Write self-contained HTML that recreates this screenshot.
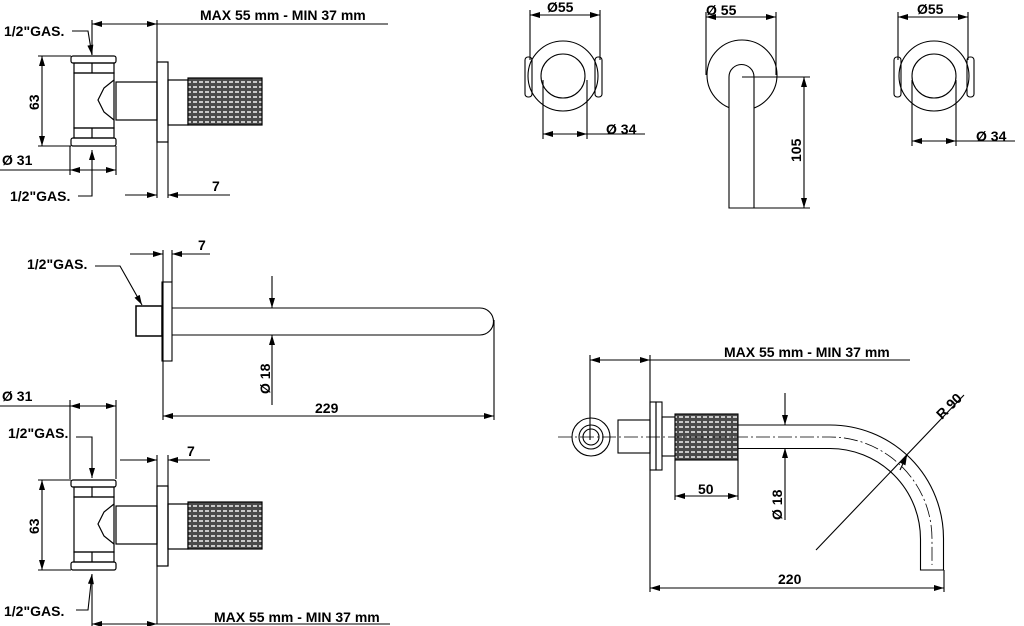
<!DOCTYPE html>
<html><head><meta charset="utf-8"><style>html,body{margin:0;padding:0;background:#fff}svg{display:block}</style></head>
<body>
<svg width="1024" height="626" viewBox="0 0 1024 626" xmlns="http://www.w3.org/2000/svg" font-family="Liberation Sans, sans-serif" font-weight="bold" font-size="14">
<defs>
<pattern id="k" width="6" height="5" patternUnits="userSpaceOnUse">
<rect width="6" height="5" fill="#4a4a4a"/><rect x="1" y="1" width="4" height="2" fill="#c8c8c8"/>
</pattern>
<marker id="a" viewBox="0 0 10 6" refX="10" refY="3" markerWidth="11" markerHeight="6" orient="auto-start-reverse" markerUnits="userSpaceOnUse"><path d="M0,0L10,3L0,6z" fill="#000"/></marker>
<g id="valve" stroke="#000" stroke-width="1.2" fill="none">
<rect x="71" y="56" width="45" height="7" rx="2"/>
<rect x="74" y="63" width="40" height="10"/>
<line x1="92" y1="63" x2="92" y2="73"/>
<rect x="74" y="73" width="40" height="55"/>
<path d="M114,80 L104,88 L98,100 L104,112 L114,120"/>
<rect x="74" y="128" width="40" height="10"/>
<line x1="92" y1="128" x2="92" y2="138"/>
<rect x="71" y="138" width="45" height="8" rx="2"/>
<rect x="116" y="82" width="41" height="38"/>
<rect x="157" y="62" width="11" height="80"/>
<rect x="168" y="80" width="20" height="45"/>
<rect x="188" y="78" width="74" height="47" fill="url(#k)"/>
</g>
</defs>
<g stroke="#000" stroke-width="1.1" fill="none">
<use href="#valve"/>
<line x1="92" y1="24" x2="157" y2="24" marker-start="url(#a)" marker-end="url(#a)"/>
<line x1="157" y1="24" x2="388" y2="24"/>
<line x1="92" y1="20" x2="92" y2="55"/>
<line x1="157" y1="20" x2="157" y2="198"/>
<line x1="168" y1="142" x2="168" y2="198"/>
<line x1="38" y1="56" x2="71" y2="56"/><line x1="38" y1="146" x2="71" y2="146"/>
<line x1="42" y1="56" x2="42" y2="146" marker-start="url(#a)" marker-end="url(#a)"/>
<line x1="0" y1="170" x2="70" y2="170"/>
<line x1="70" y1="146" x2="70" y2="175"/><line x1="116" y1="146" x2="116" y2="175"/>
<line x1="70" y1="170" x2="116" y2="170" marker-start="url(#a)" marker-end="url(#a)"/>
<polyline points="72,31 88,31 92,55" marker-end="url(#a)"/>
<polyline points="78,196 92,196 92,150" marker-end="url(#a)"/>
<line x1="125" y1="195" x2="157" y2="195" marker-end="url(#a)"/>
<line x1="230" y1="195" x2="168" y2="195" marker-end="url(#a)"/>
<use href="#valve" transform="translate(0,424)"/>
<line x1="157" y1="455" x2="157" y2="624"/>
<line x1="168" y1="455" x2="168" y2="566"/>
<line x1="120" y1="460" x2="157" y2="460" marker-end="url(#a)"/>
<line x1="210" y1="460" x2="168" y2="460" marker-end="url(#a)"/>
<line x1="92" y1="624" x2="157" y2="624" marker-start="url(#a)" marker-end="url(#a)"/>
<line x1="157" y1="624" x2="390" y2="624"/>
<line x1="92" y1="575" x2="92" y2="626"/>
<line x1="38" y1="480" x2="71" y2="480"/><line x1="38" y1="570" x2="71" y2="570"/>
<line x1="42" y1="480" x2="42" y2="570" marker-start="url(#a)" marker-end="url(#a)"/>
<line x1="0" y1="406" x2="70" y2="406"/>
<line x1="70" y1="400" x2="70" y2="479"/><line x1="116" y1="400" x2="116" y2="479"/>
<line x1="70" y1="406" x2="116" y2="406" marker-start="url(#a)" marker-end="url(#a)"/>
<polyline points="76,437 92,437 92,478" marker-end="url(#a)"/>
<polyline points="76,610 88,610 92,574" marker-end="url(#a)"/>
<rect x="136" y="306" width="26" height="30" stroke-width="1.5"/>
<rect x="162" y="282" width="10" height="79"/>
<path d="M172,308 H480 A13.5,13.5 0 0 1 480,335 H172"/>
<line x1="163" y1="250" x2="163" y2="420"/><line x1="172" y1="250" x2="172" y2="282"/>
<line x1="130" y1="254" x2="163" y2="254" marker-end="url(#a)"/>
<line x1="210" y1="254" x2="172" y2="254" marker-end="url(#a)"/>
<line x1="272" y1="276" x2="272" y2="308" marker-end="url(#a)"/>
<line x1="272" y1="405" x2="272" y2="335" marker-end="url(#a)"/>
<line x1="494" y1="320" x2="494" y2="420"/>
<line x1="163" y1="416" x2="494" y2="416" marker-start="url(#a)" marker-end="url(#a)"/>
<polyline points="95,266 120,266 142,305" marker-end="url(#a)"/>
<circle cx="563" cy="76" r="35"/><circle cx="563" cy="76" r="22"/>
<rect x="525" y="57" width="7" height="40" rx="3"/><rect x="595" y="57" width="7" height="40" rx="3"/>
<line x1="530" y1="10" x2="530" y2="60"/><line x1="600" y1="10" x2="600" y2="60"/>
<line x1="530" y1="15" x2="600" y2="15" marker-start="url(#a)" marker-end="url(#a)"/>
<line x1="543" y1="80" x2="543" y2="139"/><line x1="587" y1="80" x2="587" y2="139"/>
<line x1="543" y1="134" x2="587" y2="134" marker-start="url(#a)" marker-end="url(#a)"/>
<line x1="587" y1="134" x2="645" y2="134"/>
<circle cx="742" cy="75" r="35"/>
<path d="M729,208 V77 A12.5,12.5 0 0 1 754,77 V208 Z" fill="#fff"/>
<line x1="706" y1="12" x2="706" y2="75"/><line x1="776" y1="12" x2="776" y2="75"/>
<line x1="706" y1="17" x2="776" y2="17" marker-start="url(#a)" marker-end="url(#a)"/>
<line x1="742" y1="77" x2="810" y2="77"/><line x1="754" y1="208" x2="810" y2="208"/>
<line x1="804" y1="77" x2="804" y2="208" marker-start="url(#a)" marker-end="url(#a)"/>
<circle cx="934" cy="76" r="35"/><circle cx="934" cy="76" r="22"/>
<rect x="894" y="57" width="7" height="40" rx="3"/><rect x="967" y="57" width="7" height="40" rx="3"/>
<line x1="898" y1="12" x2="898" y2="60"/><line x1="968" y1="12" x2="968" y2="60"/>
<line x1="898" y1="17" x2="968" y2="17" marker-start="url(#a)" marker-end="url(#a)"/>
<line x1="912" y1="80" x2="912" y2="146"/><line x1="956" y1="80" x2="956" y2="146"/>
<line x1="912" y1="141" x2="956" y2="141" marker-start="url(#a)" marker-end="url(#a)"/>
<line x1="956" y1="141" x2="1015" y2="141"/>
<circle cx="591" cy="437" r="19"/><circle cx="591" cy="437" r="12"/><circle cx="591" cy="437" r="8"/>
<rect x="618" y="420" width="32" height="33"/>
<rect x="650" y="402" width="6" height="68"/><rect x="656" y="402" width="6" height="68"/>
<rect x="662" y="417" width="13" height="39"/>
<rect x="675" y="414" width="63" height="46" fill="url(#k)"/>
<path d="M738,425 H830 A113.5,113.5 0 0 1 943.5,539 V570 H920.5 V539 A90.5,90.5 0 0 0 830,448.5 H738"/>
<path d="M558,437 H830 A102,102 0 0 1 932,539 V565" stroke-dasharray="14,3,2,3" stroke-width="0.8"/>
<line x1="590" y1="355" x2="590" y2="440"/><line x1="650" y1="355" x2="650" y2="592"/>
<line x1="590" y1="360" x2="650" y2="360" marker-start="url(#a)" marker-end="url(#a)"/>
<line x1="650" y1="360" x2="910" y2="360"/>
<line x1="675" y1="460" x2="675" y2="500"/><line x1="738" y1="460" x2="738" y2="500"/>
<line x1="675" y1="496" x2="738" y2="496" marker-start="url(#a)" marker-end="url(#a)"/>
<line x1="785" y1="393" x2="785" y2="425" marker-end="url(#a)"/>
<line x1="785" y1="520" x2="785" y2="448" marker-end="url(#a)"/>
<line x1="944" y1="570" x2="944" y2="592"/>
<line x1="650" y1="588" x2="944" y2="588" marker-start="url(#a)" marker-end="url(#a)"/>
<line x1="816" y1="550" x2="964" y2="395"/>
<line x1="900" y1="470" x2="907" y2="455" marker-end="url(#a)"/>
</g>
<g fill="#000">
<text x="200" y="20">MAX 55 mm - MIN 37 mm</text>
<text x="4" y="36">1/2"GAS.</text>
<text x="10" y="201">1/2"GAS.</text>
<text x="2" y="165">Ø  31</text>
<text x="212" y="191">7</text>
<text transform="translate(39,110) rotate(-90)">63</text>
<text x="2" y="401">Ø  31</text>
<text x="8" y="438">1/2"GAS.</text>
<text x="187" y="456">7</text>
<text transform="translate(39,534) rotate(-90)">63</text>
<text x="4" y="616">1/2"GAS.</text>
<text x="214" y="622">MAX 55 mm - MIN 37 mm</text>
<text x="27" y="269">1/2"GAS.</text>
<text x="198" y="250">7</text>
<text transform="translate(270,394) rotate(-90)">Ø  18</text>
<text x="315" y="413">229</text>
<text x="547" y="12">Ø55</text>
<text x="606" y="134">Ø  34</text>
<text x="706" y="15">Ø  55</text>
<text transform="translate(801,162) rotate(-90)">105</text>
<text x="917" y="14">Ø55</text>
<text x="976" y="141">Ø  34</text>
<text x="724" y="357">MAX 55 mm - MIN 37 mm</text>
<text x="698" y="494">50</text>
<text transform="translate(782,520) rotate(-90)">Ø  18</text>
<text x="778" y="584">220</text>
<text transform="translate(942,420) rotate(-45)">R 90</text>
</g>
</svg>
</body></html>
